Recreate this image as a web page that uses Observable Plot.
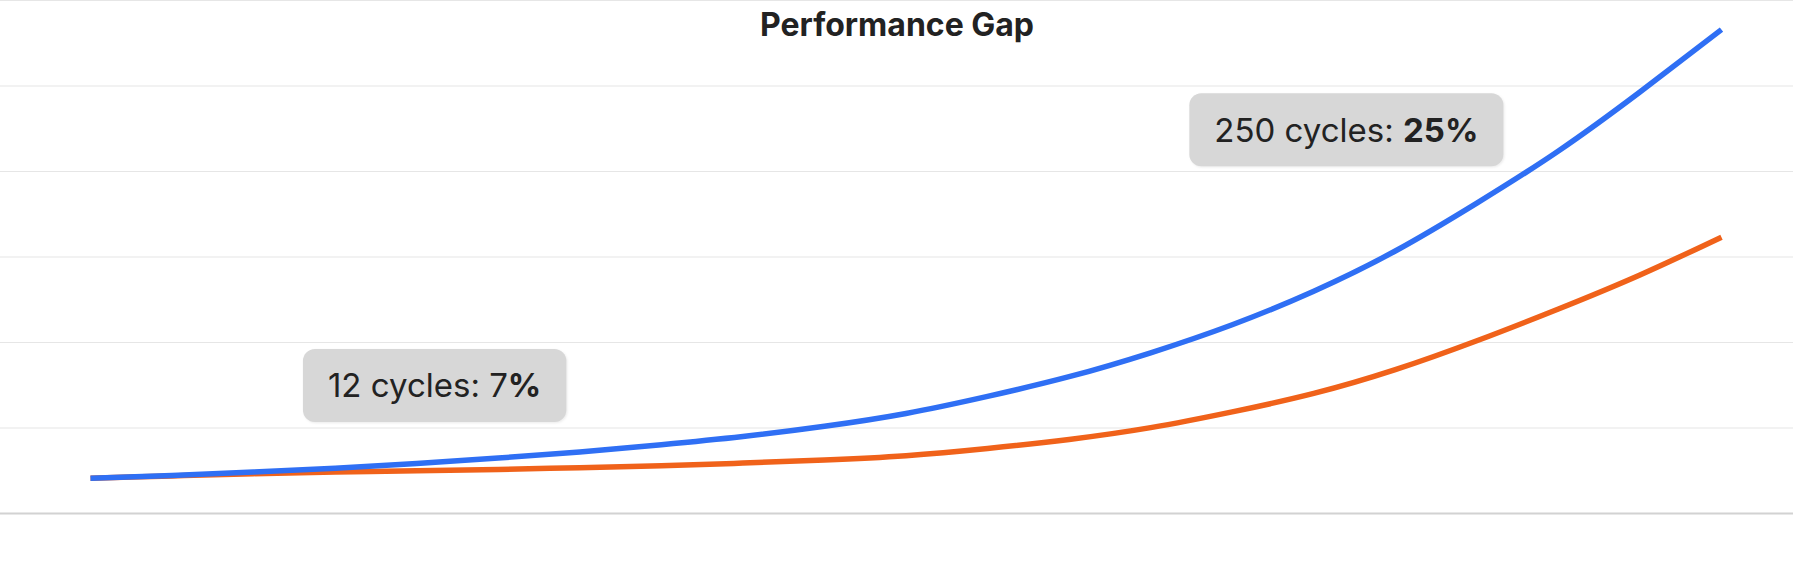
<!DOCTYPE html>
<html>
<head>
<meta charset="utf-8">
<script src="https://cdn.jsdelivr.net/npm/d3@7"></script>
<script src="https://cdn.jsdelivr.net/npm/@observablehq/plot@0.6"></script>
<style>
  html, body { margin: 0; padding: 0; background: #fff; }
  #chart { width: 1793px; height: 577px; }
  svg { font-family: Inter, "Noto Sans", sans-serif; display: block; }
</style>
</head>
<body>
<div id="chart"></div>
<script>
// ---- data ----
const title = "Performance Gap";
const xSteps = [0, 5, 10, 15, 20, 25, 30, 35, 40, 45, 50, 55, 60, 65, 70, 75, 80, 85, 90, 95, 100];
const seriesBlue = [2.06, 2.22, 2.42, 2.65, 2.92, 3.24, 3.6, 4.02, 4.5, 5.1, 5.85, 6.85, 8.0, 9.4, 11.04, 13.0, 15.35, 18.15, 21.2, 24.65, 28.3];
const seriesOrange = [2.06, 2.2, 2.33, 2.42, 2.5, 2.58, 2.68, 2.79, 2.95, 3.13, 3.38, 3.8, 4.33, 5.02, 5.94, 7.02, 8.41, 10.1, 11.96, 13.95, 16.16];
const seriesNames = ["A", "B"];
const seriesColors = ["#2f6ff4", "#f0621a"];
const yTicks = [0, 5, 10, 15, 20, 25, 30];
const annotationX = [21.1, 77.0];
const annotationY = [7.49, 22.44];
const annotationText = ["12 cycles: 7", "250 cycles: "];
const annotationStrong = ["%", "25%"];

// ---- tables built from the arrays (orange first so blue draws on top) ----
const lines = [
  ...xSteps.map((x, i) => ({x, y: seriesOrange[i], series: seriesNames[1]})),
  ...xSteps.map((x, i) => ({x, y: seriesBlue[i], series: seriesNames[0]}))
];
const notes = annotationX.map((x, i) => ({x, y: annotationY[i], text: annotationText[i], strong: annotationStrong[i]}));

const W = 1793, H = 577;
const plot = Plot.plot({
  width: W,
  height: H,
  marginLeft: 90,
  marginRight: 72,
  marginTop: 0,
  marginBottom: 64,
  x: {domain: [0, 100], axis: null},
  y: {domain: [0, 30], axis: null},
  color: {domain: seriesNames, range: seriesColors},
  marks: [
    Plot.ruleY(yTicks.slice(1), {stroke: "#e6e6e6", strokeWidth: 1.2, insetLeft: -90, insetRight: -72}),
    Plot.ruleY([0], {stroke: "#d2d2d2", strokeWidth: 2, insetLeft: -90, insetRight: -72}),
    Plot.line(lines, {x: "x", y: "y", z: "series", stroke: "series", strokeWidth: 5.5, curve: "natural", strokeLinecap: "butt"}),
    Plot.text([title], {frameAnchor: "top", lineAnchor: "top", dx: -9, dy: 13, fontSize: 32, fontWeight: 700, fill: "#222"}),
    Plot.text(notes, {x: "x", y: "y", text: d => d.text + d.strong, fontSize: 33, fill: "#222", textAnchor: "middle", lineAnchor: "middle", className: "note"})
  ]
});
document.getElementById("chart").appendChild(plot);

// rich text + rounded background boxes for annotations
d3.select(plot).selectAll("g.note text").each(function(d, i) {
  const n = notes[i];
  const t = d3.select(this);
  const tr = this.getAttribute("transform") || "";
  const m = /translate\(([-\d.]+),([-\d.]+)\)/.exec(tr);
  let tx = 0, ty = 0;
  if (m) { tx = +m[1]; ty = +m[2]; }
  t.text(null).attr("y", "0.36em").attr("dy", null);
  t.append("tspan").text(n.text);
  t.append("tspan").attr("font-weight", 700).text(n.strong);
  const bb = this.getBBox();
  const padX = 25, h = 73;
  d3.select(this.parentNode).insert("rect", () => this)
    .attr("x", tx + bb.x - padX)
    .attr("y", ty - h / 2)
    .attr("width", bb.width + 2 * padX)
    .attr("height", h)
    .attr("rx", 12)
    .attr("fill", "#d7d7d7")
    .style("filter", "drop-shadow(1px 1.5px 1px rgba(0,0,0,0.08))");
});
</script>
</body>
</html>
